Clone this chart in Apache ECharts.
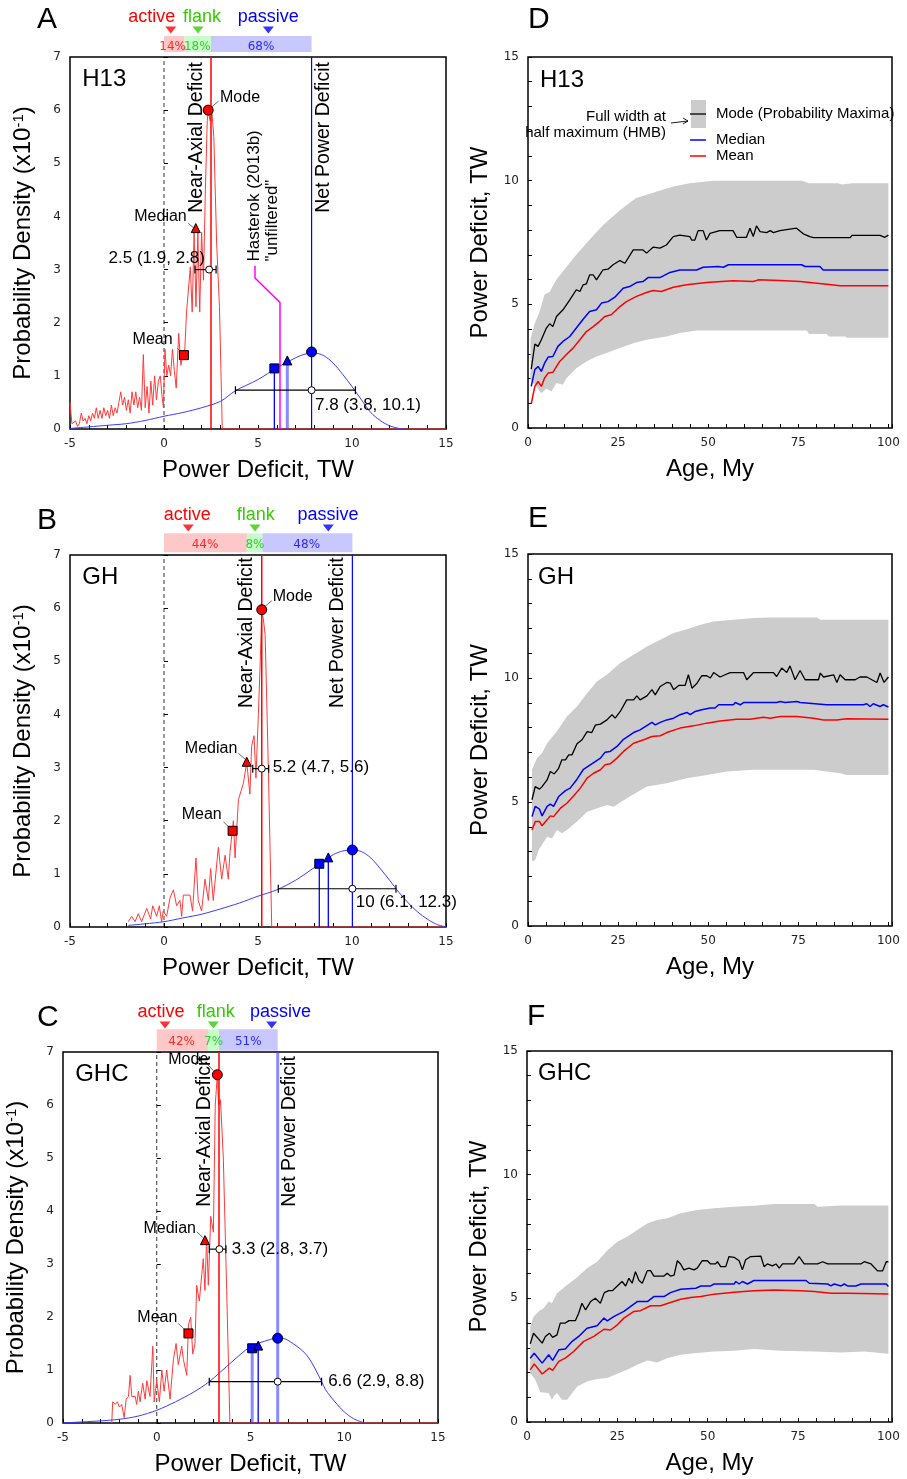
<!DOCTYPE html>
<html><head><meta charset="utf-8">
<script src="https://cdn.jsdelivr.net/npm/echarts@6/dist/echarts.min.js"></script>
<style>html,body{margin:0;padding:0;background:#fff}#c{width:907px;height:1479px}</style>
</head><body><div id="c"></div>
<script>
// ================= DATA =================
// ---- Panel A (H13) : probability density vs power deficit ----
const A_axial = [[-5,0.5],[-4.9,0.1],[-4.8,0.1],[-4.7,0.15],[-4.6,0.05],[-4.5,0.1],[-4.4,0.3],[-4.3,0.15],[-4.2,0.2],[-4.1,0.1],[-4.0,0.25],[-3.9,0.15],[-3.8,0.3],[-3.7,0.2],[-3.6,0.4],[-3.5,0.2],[-3.4,0.35],[-3.3,0.2],[-3.2,0.4],[-3.1,0.25],[-3.0,0.35],[-2.9,0.2],[-2.8,0.45],[-2.7,0.25],[-2.6,0.4],[-2.5,0.3],[-2.4,0.5],[-2.3,0.7],[-2.2,0.45],[-2.1,0.6],[-2.0,0.35],[-1.9,0.55],[-1.8,0.3],[-1.7,0.7],[-1.6,0.45],[-1.5,0.7],[-1.4,0.4],[-1.3,0.6],[-1.2,0.35],[-1.1,1.4],[-1.0,0.4],[-0.9,0.8],[-0.8,0.3],[-0.7,0.9],[-0.6,0.45],[-0.5,1.0],[-0.4,0.55],[-0.3,0.9],[-0.2,1.0],[-0.1,0.6],[-0.03,0.4],[0.05,1.5],[0.15,1.0],[0.25,1.2],[0.35,1.0],[0.45,1.5],[0.55,1.1],[0.65,0.77],[0.78,1.8],[0.9,1.2],[1.0,1.4],[1.1,1.45],[1.2,2.2],[1.3,2.2],[1.4,3.05],[1.5,2.2],[1.6,3.7],[1.7,2.3],[1.8,3.7],[1.9,2.2],[2.0,3.7],[2.1,2.8],[2.2,4.5],[2.3,5.8],[2.36,6.0],[2.45,5.8],[2.55,5.95],[2.65,5.5],[2.8,3.5],[2.95,2.3],[3.1,0],[15,0]];
const A_net = [[-5,0.01],[-4,0.04],[-3,0.07],[-2,0.1],[-1,0.16],[0,0.24],[1,0.31],[2,0.4],[3,0.52],[3.8,0.72],[5,0.93],[6,1.15],[7,1.34],[7.5,1.41],[8,1.43],[8.5,1.38],[9,1.24],[9.5,1.03],[10,0.8],[10.5,0.55],[11,0.31],[11.5,0.16],[12,0.06],[12.5,0.01],[12.8,0]];
const A_hasterok = [[6.17,0],[6.17,2.38],[4.84,2.84],[4.84,3.07]];
const A_regions = [0, 1.1, 2.5, 7.85];
const A_shares = ['14%','18%','68%'];
const A_regionMarks = [0.36, 1.81, 5.55];
const A_axialX = 2.5, A_netX = 7.85;
const A_mode = [2.35, 6.0], A_median = [1.69, 3.78], A_mean = [1.06, 1.39];
const A_netMode = [7.85, 1.45], A_netMean = [5.87, 1.14], A_netMedian = [6.56, 1.29];
const A_axialCI = [2.4, 3.0, 1.65, 2.77];
const A_netCI = [7.85, 0.73, 3.8, 10.18];
const A_ciText = ['2.5 (1.9, 2.8)', '7.8 (3.8, 10.1)'];

// ---- Panel B (GH) ----
const B_axial = [[-1.9,0.1],[-1.72,0.2],[-1.54,0.1],[-1.37,0.25],[-1.19,0.1],[-0.92,0.35],[-0.71,0.15],[-0.6,0.4],[-0.39,0.2],[-0.25,0.4],[-0.13,0.1],[-0.04,0.3],[0.14,0.2],[0.32,0.55],[0.5,0.7],[0.67,0.4],[0.85,0.5],[0.94,0.2],[1.03,0.6],[1.38,0.6],[1.52,0.3],[1.7,1.3],[1.82,0.5],[2.0,0.3],[2.18,0.9],[2.36,0.5],[2.48,1.1],[2.62,0.5],[2.89,1.5],[3.07,0.9],[3.25,1.35],[3.42,0.9],[3.51,1.4],[3.69,2.0],[3.78,1.3],[3.96,2.4],[4.04,2.4],[4.22,2.7],[4.4,3.1],[4.57,2.5],[4.66,3.4],[4.79,3.6],[4.89,2.8],[5.02,4.0],[5.12,5.0],[5.2,5.97],[5.28,5.8],[5.38,5.5],[5.55,3.0],[5.73,0],[15,0]];
const B_net = [[-1.9,0.03],[-1,0.06],[0,0.1],[1,0.17],[2,0.24],[3,0.34],[4,0.45],[5,0.58],[6,0.7],[7,0.88],[8,1.12],[9,1.36],[9.5,1.43],[10,1.45],[10.5,1.42],[11,1.3],[11.5,1.1],[12,0.88],[12.5,0.65],[13,0.45],[13.5,0.28],[14,0.15],[14.5,0.05],[15,0]];
const B_regions = [0, 4.41, 5.23, 10.02];
const B_shares = ['44%','8%','48%'];
const B_regionMarks = [1.29, 4.84, 8.74];
const B_axialX = 5.2, B_netX = 10.02;
const B_mode = [5.2, 5.97], B_median = [4.4, 3.11], B_mean = [3.65, 1.81];
const B_netMode = [10.02, 1.45], B_netMean = [8.26, 1.19], B_netMedian = [8.74, 1.31];
const B_axialCI = [5.2, 2.98, 4.72, 5.57];
const B_netCI = [10.02, 0.72, 6.08, 12.34];
const B_ciText = ['5.2 (4.7, 5.6)', '10 (6.1, 12.3)'];

// ---- Panel C (GHC) ----
const C_axial = [[-2.4,0],[-2.35,0.4],[-2.22,0.35],[-2.1,0.4],[-1.99,0.3],[-1.87,0.35],[-1.74,0.1],[-1.63,0.45],[-1.51,0.5],[-1.42,0.9],[-1.33,0.5],[-1.15,0.5],[-1.07,0.35],[-0.98,0.6],[-0.89,0.4],[-0.75,0.75],[-0.62,0.45],[-0.53,0.8],[-0.36,0.5],[-0.21,1.45],[-0.14,0.4],[0.0,0.8],[0.14,0.4],[0.27,1.0],[0.39,0.6],[0.53,1.0],[0.71,0.45],[0.89,1.2],[1.03,1.5],[1.15,1.1],[1.33,1.45],[1.42,1.2],[1.6,0.9],[1.69,1.85],[1.81,2.0],[1.92,1.3],[2.04,1.5],[2.13,2.6],[2.27,2.3],[2.4,2.8],[2.48,3.1],[2.57,2.5],[2.66,3.5],[2.75,2.6],[2.88,3.9],[3.02,3.6],[3.12,6.0],[3.23,6.57],[3.3,6.0],[3.4,6.1],[3.55,5.0],[3.73,2.5],[3.9,0],[15,0]];
const C_net = [[-5,0],[-4,0.02],[-3,0.04],[-2,0.07],[-1,0.13],[0,0.24],[1,0.4],[2,0.59],[2.8,0.78],[4,1.15],[5,1.44],[6,1.57],[6.5,1.61],[7,1.56],[8,1.28],[8.8,0.78],[9,0.63],[9.5,0.4],[10,0.21],[10.5,0.08],[11,0.01]];
const C_regions = [0, 2.73, 3.32, 6.45];
const C_shares = ['42%','7%','51%'];
const C_regionMarks = [0.44, 3.02, 6.13];
const C_axialX = 3.32, C_netX = 6.45;
const C_mode = [3.23, 6.57], C_median = [2.57, 3.45], C_mean = [1.69, 1.69];
const C_netMode = [6.45, 1.6], C_netMean = [5.09, 1.41], C_netMedian = [5.41, 1.46];
const C_axialCI = [3.34, 3.28, 2.8, 3.69];
const C_netCI = [6.45, 0.78, 2.8, 8.79];
const C_ciText = ['3.3 (2.8, 3.7)', '6.6 (2.9, 8.8)'];

// ---- Panel D (H13) : power deficit vs age ----
const D_hi = [[0.7,3.6],[1.8,4.2],[3.2,4.7],[4.6,5.4],[6,5.5],[7.9,6.0],[10.6,6.5],[13.4,7.0],[17,7.6],[20.8,8.2],[25.5,8.8],[30,9.3],[35.6,9.55],[40.3,9.76],[44.9,9.9],[51.4,10.0],[76,10.0],[78,9.9],[86,9.9],[87,9.85],[90,9.9],[100,9.9]];
const D_lo = [[0.7,1.95],[2.3,1.68],[3.7,1.41],[5.1,1.6],[6.5,1.48],[7.9,1.82],[9.7,1.75],[10.6,2.0],[13.4,2.42],[16.2,2.69],[19,2.89],[21.8,3.03],[25.5,3.23],[29.2,3.43],[32.9,3.57],[38.4,3.7],[42.1,3.84],[46.8,3.94],[77.3,3.94],[78,3.8],[82.9,3.8],[83.5,3.7],[88,3.7],[88.5,3.65],[100,3.65]];
const D_mode = [[0.9,2.38],[1.9,3.39],[2.8,3.3],[3.7,3.57],[5.1,4.04],[6.0,4.21],[6.9,4.1],[7.9,4.51],[9.7,4.78],[11.6,5.18],[13.4,5.59],[14.4,5.52],[15.3,5.79],[16.2,5.83],[17.1,6.19],[18.1,6.19],[19.0,5.99],[20.8,6.39],[22.2,6.42],[23.6,6.6],[25.5,6.77],[26.9,6.66],[29.2,7.2],[31.9,7.2],[32.9,7.07],[34.7,7.31],[36.6,7.27],[38.4,7.4],[40.3,7.74],[42.1,7.8],[44.9,7.74],[45.4,7.6],[46.3,7.6],[47.2,7.98],[48.6,7.98],[49.5,7.6],[50.5,7.87],[53.2,7.98],[56.9,7.98],[57.9,7.71],[60.6,7.71],[61.6,8.08],[62.5,7.74],[63.4,8.17],[64.4,7.94],[66.2,7.9],[67.2,7.98],[68.1,7.9],[69.9,7.98],[74.5,8.08],[76.4,7.85],[78.2,7.74],[79.2,7.7],[89.4,7.7],[89.9,7.79],[97.7,7.79],[99,7.71],[100,7.8]];
const D_median = [[0.9,1.68],[1.9,2.36],[2.8,2.49],[3.7,2.29],[4.6,2.62],[5.6,2.87],[6.9,2.89],[8.3,3.3],[9.7,3.5],[11.6,3.7],[13.4,4.04],[15.3,4.4],[17.1,4.71],[19,4.78],[20.4,5.05],[22.2,5.11],[24.1,5.29],[26.4,5.65],[28.2,5.72],[30.1,5.88],[31.9,5.92],[33.3,6.08],[36.6,6.08],[39.4,6.29],[42.1,6.39],[46.8,6.39],[48.6,6.5],[52.8,6.53],[53.2,6.6],[54.2,6.5],[55.6,6.6],[75.9,6.6],[76.9,6.53],[81,6.53],[81.9,6.39],[100,6.39]];
const D_mean = [[0.9,0.98],[1.9,1.68],[2.8,1.88],[3.7,1.68],[4.6,2.02],[5.6,2.22],[6.9,2.25],[8.8,2.69],[10.6,2.96],[12.5,3.23],[14.4,3.57],[16.2,3.9],[18.1,4.1],[19.9,4.31],[21.3,4.51],[23.1,4.58],[25.5,4.91],[27.3,5.11],[30.1,5.32],[32.9,5.48],[34.7,5.56],[37,5.52],[40.3,5.69],[44,5.79],[49.5,5.88],[56.9,5.95],[62.5,5.92],[63.9,5.99],[69.9,5.96],[75.5,5.92],[82.9,5.81],[86.6,5.75],[100,5.75]];

// ---- Panel E (GH) ----
const E_hi = [[1.1,6.3],[2.5,6.77],[3.9,6.97],[5.3,7.37],[8.0,7.84],[10.8,8.45],[13.6,8.85],[16.4,9.39],[19.1,9.86],[21.9,10.13],[25.6,10.6],[29.3,10.94],[33.0,11.27],[36.7,11.54],[40.4,11.81],[44.1,11.97],[47.8,12.15],[51.5,12.28],[57.0,12.35],[62.6,12.42],[67.2,12.44],[80.1,12.44],[81.1,12.35],[100,12.35]];
const E_lo = [[1.1,2.6],[2.0,2.66],[3.0,3.07],[5.3,3.6],[6.7,3.53],[8.0,3.87],[9.4,3.74],[10.8,3.87],[13.6,4.21],[16.4,4.61],[21.9,4.88],[23.8,4.81],[27.4,5.15],[33.0,5.62],[38.5,5.76],[44.1,5.96],[49.6,6.09],[55.2,6.23],[62.6,6.3],[79.2,6.3],[86.6,6.16],[88.4,6.09],[100,6.09]];
const E_mode = [[1.1,5.09],[2.0,5.62],[3.2,5.52],[3.9,5.62],[5.3,5.89],[6.2,6.23],[7.3,6.13],[8.5,6.36],[9.4,6.7],[10.4,6.7],[11.3,6.9],[12.2,6.9],[13.6,7.35],[15.0,7.51],[16.4,7.84],[17.7,7.8],[18.7,8.1],[20.1,8.14],[21.9,8.31],[23.3,8.52],[24.2,8.38],[25.6,8.65],[27.4,9.12],[29.3,9.12],[30.2,9.28],[31.1,9.12],[33.0,9.28],[34.4,9.53],[35.3,9.32],[36.7,9.66],[38.5,9.82],[39.5,9.79],[40.4,9.53],[41.8,9.7],[43.6,9.7],[44.5,10.13],[45.5,9.59],[46.9,9.79],[48.2,10.09],[49.6,10.09],[50.6,10.0],[51.5,10.22],[53.3,10.04],[54.7,10.13],[56.1,10.22],[59.8,10.22],[60.7,9.93],[62.6,10.22],[68.1,10.22],[69.0,10.06],[70.4,10.4],[71.8,10.22],[72.7,10.49],[74.1,9.93],[75.5,10.3],[76.9,9.93],[80.6,9.93],[81.1,10.2],[82.0,10.04],[84.8,10.13],[85.7,9.82],[86.6,10.13],[88.0,9.93],[90.8,9.93],[92.1,10.04],[94.0,10.04],[96.8,9.82],[97.7,10.2],[98.8,9.82],[100,10.04]];
const E_median = [[1.1,4.41],[2.0,4.82],[3.2,4.71],[3.9,4.44],[5.3,4.82],[6.2,4.91],[7.1,4.82],[8.5,5.22],[10.4,5.46],[11.7,5.56],[13.6,5.92],[15.4,6.32],[17.7,6.54],[20.1,6.77],[21.4,7.01],[22.8,7.04],[24.7,7.24],[26.5,7.53],[29.3,7.8],[31.1,7.91],[34.4,8.21],[35.3,8.11],[36.7,8.21],[38.5,8.31],[40.4,8.38],[42.2,8.52],[44.1,8.61],[45.0,8.52],[46.4,8.65],[48.2,8.72],[50.6,8.79],[51.9,8.79],[52.9,8.92],[57.0,8.92],[57.5,9.01],[58.9,8.92],[59.8,9.01],[69.0,9.01],[70.0,9.05],[71.3,9.01],[74.6,9.05],[75.5,9.01],[82.9,8.92],[93.1,8.92],[94.0,8.96],[94.9,8.85],[95.8,8.96],[97.7,8.85],[98.6,8.92],[100,8.83]];
const E_mean = [[1.1,3.87],[2.0,4.21],[3.2,4.21],[3.9,4.04],[5.3,4.28],[6.2,4.44],[7.1,4.41],[9.0,4.75],[10.8,4.95],[12.7,5.25],[14.5,5.56],[16.4,5.96],[18.2,6.16],[20.1,6.3],[21.4,6.5],[22.8,6.54],[24.7,6.77],[26.5,7.04],[29.3,7.37],[32.1,7.51],[34.4,7.64],[36.7,7.67],[38.5,7.8],[42.2,7.98],[45.9,8.07],[49.6,8.18],[53.3,8.27],[57.9,8.34],[61.6,8.34],[65.3,8.42],[67.2,8.38],[70.0,8.45],[74.6,8.45],[79.2,8.38],[82.0,8.31],[85.7,8.31],[88.4,8.36],[100,8.34]];

// ---- Panel F (GHC) ----
const F_hi = [[0.9,3.86],[1.8,4.26],[3.2,4.47],[4.6,4.6],[6.0,4.87],[6.9,4.8],[8.3,5.21],[11.1,5.54],[13.9,5.85],[16.6,6.22],[19.4,6.48],[22.2,6.93],[25.0,7.29],[27.7,7.49],[30.5,7.76],[33.3,8.03],[36.0,8.17],[38.8,8.24],[42.5,8.44],[47.1,8.57],[51.8,8.64],[57.3,8.7],[62.8,8.74],[68.4,8.81],[79.5,8.81],[80.4,8.7],[86.9,8.75],[100,8.75]];
const F_lo = [[0.9,1.98],[2.3,1.71],[3.7,1.2],[6.0,1.17],[6.9,0.9],[7.4,1.04],[8.3,1.17],[9.7,0.9],[11.1,0.9],[13.9,1.44],[16.6,1.64],[19.4,1.74],[22.2,1.78],[25.0,1.95],[27.7,2.11],[30.5,2.31],[33.3,2.49],[36.0,2.41],[38.8,2.58],[42.5,2.72],[46.2,2.78],[51.8,2.85],[57.3,2.88],[62.8,2.95],[70.2,2.88],[79.5,2.85],[86.9,2.81],[93.3,2.85],[100,2.76]];
const F_mode = [[0.9,3.16],[1.8,3.59],[3.0,3.39],[4.2,3.19],[5.1,3.46],[6.2,3.59],[7.1,3.42],[8.3,3.52],[9.2,4.0],[10.6,4.0],[11.6,4.1],[13.4,4.1],[14.3,4.4],[15.2,4.8],[16.2,4.53],[17.6,4.87],[18.9,5.0],[19.4,5.0],[20.3,4.8],[21.4,5.23],[22.6,5.31],[23.6,5.31],[25.0,5.5],[26.3,5.68],[27.3,5.5],[28.2,5.81],[29.1,5.61],[30.0,6.08],[31.0,5.72],[31.9,5.61],[33.3,6.12],[34.2,6.12],[35.1,5.9],[37.9,5.9],[38.8,6.01],[39.7,5.9],[40.7,5.94],[41.6,6.52],[42.5,6.39],[43.4,6.15],[44.8,6.22],[46.2,6.15],[47.1,6.22],[48.5,6.52],[49.9,6.52],[50.8,6.39],[52.2,6.39],[52.7,6.48],[53.6,6.28],[55.0,6.28],[55.9,6.69],[57.3,6.66],[58.7,6.52],[59.6,6.15],[60.5,6.56],[61.9,6.69],[64.7,6.71],[65.6,6.28],[66.5,6.39],[67.9,6.31],[68.9,6.39],[69.8,6.22],[70.7,6.39],[73.9,6.39],[75.3,6.69],[76.7,6.39],[80.4,6.39],[81.8,6.48],[83.2,6.39],[92.4,6.39],[93.3,6.48],[95.2,6.39],[97.0,6.11],[98.4,6.11],[99.4,6.48],[100,6.48]];
const F_median = [[0.9,2.58],[2.0,2.78],[4.2,2.38],[6.0,2.72],[7.1,2.49],[8.8,2.92],[10.6,2.95],[12.5,3.26],[14.3,3.46],[16.6,3.79],[19.4,3.89],[21.3,4.2],[22.2,4.09],[24.0,4.26],[26.8,4.47],[30.5,4.87],[33.3,4.87],[35.1,5.07],[37.9,5.07],[39.7,5.23],[42.5,5.37],[46.7,5.41],[48.1,5.5],[50.8,5.5],[51.8,5.58],[57.3,5.58],[57.8,5.68],[58.7,5.58],[59.6,5.68],[61.0,5.58],[62.8,5.72],[77.2,5.72],[78.1,5.61],[83.2,5.58],[84.1,5.5],[85.0,5.58],[86.9,5.5],[87.8,5.58],[88.7,5.5],[91.0,5.5],[92.4,5.58],[99.4,5.58],[100,5.48]];
const F_mean = [[0.9,2.11],[2.0,2.35],[4.2,1.94],[6.2,2.18],[7.1,2.09],[8.8,2.45],[10.6,2.58],[12.9,2.85],[15.7,3.26],[18.5,3.46],[21.3,3.75],[23.1,3.72],[25.0,3.93],[26.8,4.2],[29.6,4.47],[31.4,4.5],[34.2,4.7],[37.0,4.7],[39.7,4.83],[42.5,4.96],[45.3,5.03],[48.1,5.07],[51.8,5.17],[57.3,5.25],[62.8,5.31],[68.4,5.34],[75.8,5.31],[79.5,5.28],[84.1,5.21],[88.7,5.21],[100,5.18]];

// ================= STYLE / LAYOUT =================
const FONT = '"Liberation Sans", Arial, sans-serif';
const TICKFONT = '"DejaVu Sans", Verdana, sans-serif';
const REGION_NAMES = ['active', 'flank', 'passive'];
const REGION_TEXT = ['#ff0000', '#33cc00', '#0000ff'];
const REGION_FILL = ['#ffc8c8', '#c8ffc8', '#c8c8ff'];
const REGION_PCT = ['#ff2a2a', '#33cc33', '#2a2aff'];
const THIN_BLUE = {color: '#0000ff', width: 1.3};
const WIDE_BLUE = {color: 'rgba(60,60,255,0.6)', width: 3};

const grids = [], xAxes = [], yAxes = [], series = [], graphic = [];

function tickFmt(every) { return v => (Math.abs(v / every - Math.round(v / every)) < 1e-9) ? String(v) : ''; }
function valAxis(min, max, labelEvery, name, nameGap, extra) {
  return Object.assign({
    type: 'value', min, max, interval: 1, name, nameLocation: 'middle', nameGap, nameMoveOverlap: false,
    nameTextStyle: {fontFamily: FONT, fontSize: 24, color: '#000'},
    axisLine: {show: false}, splitLine: {show: false},
    axisTick: {show: true, inside: true, length: 4, lineStyle: {color: '#000', width: 1}},
    axisLabel: {show: true, fontFamily: TICKFONT, fontSize: 12, color: '#222', margin: 9, formatter: tickFmt(labelEvery)}
  }, extra || {});
}
function addGrid(rect, xa, ya) {
  grids.push(Object.assign({show: true, borderColor: '#000', borderWidth: 1.5, backgroundColor: 'transparent', containLabel: false, outerBoundsMode: 'none'}, rect));
  const i = grids.length - 1;
  xAxes.push(Object.assign({gridIndex: i}, xa));
  yAxes.push(Object.assign({gridIndex: i}, ya));
  return i;
}
function addStrip(left, top, width) {
  grids.push({show: false, left, top, width, height: 50, containLabel: false, outerBoundsMode: 'none'});
  const i = grids.length - 1;
  xAxes.push({gridIndex: i, type: 'value', min: -5, max: 15, show: false});
  yAxes.push({gridIndex: i, type: 'value', min: 0, max: 50, show: false});
  return i;
}
function lineS(g, data, style, extra) {
  series.push(Object.assign({type: 'line', xAxisIndex: g, yAxisIndex: g, data, symbol: 'none', showSymbol: false,
    silent: true, lineStyle: Object.assign({}, style), z: 3}, extra || {}));
}
function markS(g, pt, symbol, color, size, extra) {
  series.push(Object.assign({type: 'scatter', xAxisIndex: g, yAxisIndex: g, data: [pt], symbol, symbolSize: size,
    itemStyle: {color, borderColor: '#000', borderWidth: 1, opacity: 1}, silent: true, z: 6}, extra || {}));
}
function textS(g, items, z) {
  series.push({type: 'custom', xAxisIndex: g, yAxisIndex: g, coordinateSystem: 'cartesian2d', silent: true, clip: false, z: z || 8,
    data: items.map(t => [t.x, t.y]),
    renderItem: (p, api) => {
      const t = items[p.dataIndex]; const c = api.coord([t.x, t.y]);
      const al = t.align || 'left';
      return {type: 'text', x: c[0], y: c[1], rotation: t.rot ? Math.PI / 2 : 0,
        style: {text: t.text, fill: t.color || '#000', font: (t.size || 16) + 'px ' + (t.font || FONT),
          align: al, textAlign: al, verticalAlign: 'middle', textVerticalAlign: 'middle', lineHeight: t.lh}};
    }});
}
function ciS(g, ci) {
  series.push({type: 'custom', xAxisIndex: g, yAxisIndex: g, coordinateSystem: 'cartesian2d', silent: true, z: 5, data: [ci],
    renderItem: (p, api) => {
      const y = api.value(1); const a = api.coord([api.value(2), y]); const b = api.coord([api.value(3), y]); const cap = 4;
      const st = {stroke: '#000', lineWidth: 1.2};
      return {type: 'group', children: [
        {type: 'line', shape: {x1: a[0], y1: a[1], x2: b[0], y2: b[1]}, style: st},
        {type: 'line', shape: {x1: a[0], y1: a[1] - cap, x2: a[0], y2: a[1] + cap}, style: st},
        {type: 'line', shape: {x1: b[0], y1: b[1] - cap, x2: b[0], y2: b[1] + cap}, style: st}]};
    }});
  markS(g, [ci[0], ci[1]], 'circle', '#fff', 7, {z: 7});
}
function bandS(g, hi, lo) {
  series.push({type: 'custom', xAxisIndex: g, yAxisIndex: g, coordinateSystem: 'cartesian2d', silent: true, z: 1, data: [hi[0]],
    renderItem: (p, api) => {
      const pts = hi.map(d => api.coord(d)).concat(lo.slice().reverse().map(d => api.coord(d)));
      return {type: 'polygon', shape: {points: pts}, style: {fill: '#cccccc'}};
    }});
}
function gText(x, y, text, size, align, color) {
  graphic.push({type: 'text', x, y, silent: true, z: 100,
    style: {text, fill: color || '#000', font: size + 'px ' + FONT, align: align || 'left', textAlign: align || 'left', verticalAlign: 'middle', textVerticalAlign: 'middle'}});
}

function densityPanel(P) {
  const g = addGrid({left: P.left, top: P.top, width: P.width, height: P.height},
    valAxis(-5, 15, 5, 'Power Deficit, TW', 29),
    valAxis(0, 7, 1, 'Probability Density (x10{sup|-1})', 34, {nameTextStyle: {fontFamily: FONT, fontSize: 24, color: '#000',
      rich: {sup: {fontFamily: FONT, fontSize: 15, color: '#000', verticalAlign: 'top', padding: [0, 0, 10, 0]}}}}));
  const s = addStrip(P.left, P.top - 50, P.width);
  // regions strip
  series.push({type: 'custom', xAxisIndex: s, yAxisIndex: s, coordinateSystem: 'cartesian2d', silent: true, z: 2,
    data: [0, 1, 2].map(i => [P.regions[i], P.regions[i + 1], i]),
    renderItem: (p, api) => {
      const a = api.coord([api.value(0), P.rectTop]); const b = api.coord([api.value(1), P.rectBottom]);
      return {type: 'rect', shape: {x: a[0], y: a[1], width: b[0] - a[0], height: b[1] - a[1]}, style: {fill: REGION_FILL[api.value(2)]}};
    }});
  [0, 1, 2].forEach(i => series.push({type: 'scatter', xAxisIndex: s, yAxisIndex: s, data: [[P.regionMarks[i], 27]],
    symbol: 'triangle', symbolRotate: 180, symbolSize: [11, 7], itemStyle: {color: REGION_TEXT[i]}, silent: true, z: 4}));
  textS(s, [0, 1, 2].map(i => ({x: P.regionLabelX[i], y: 39.5, text: REGION_NAMES[i], color: REGION_TEXT[i], size: 18, align: 'center'}))
    .concat([0, 1, 2].map(i => ({x: P.pctX[i], y: 10.5, text: P.shares[i], color: REGION_PCT[i], size: 12, font: TICKFONT, align: 'center'}))));

  // main
  lineS(g, [[0, 0], [0, 7]], {color: '#000', width: 0.8, type: [4, 3]});
  lineS(g, P.axial, {color: '#ff3b3b', width: 1});
  lineS(g, P.net, {color: '#3b3bff', width: 1}, {smooth: 0.3});
  if (P.hasterok) lineS(g, P.hasterok, {color: '#ff00ff', width: 1.5});
  lineS(g, [[P.axialX, 0], [P.axialX, 7]], {color: '#ff0000', width: 1.5}, {z: 4});
  lineS(g, [[P.netX, 0], [P.netX, 7]], P.netStyle, {z: 4});
  lineS(g, [[P.netMean[0], 0], P.netMean], P.sqStyle, {z: 4});
  lineS(g, [[P.netMedian[0], 0], P.netMedian], P.triStyle, {z: 4});
  // leaders
  P.leaders.forEach(l => lineS(g, l, {color: '#444', width: 0.8}, {z: 5}));
  // markers
  markS(g, P.mode, 'circle', '#ff0000', 10);
  markS(g, P.median, 'triangle', '#ff0000', 9);
  markS(g, P.mean, 'rect', '#ff0000', 9);
  markS(g, P.netMode, 'circle', '#0000ff', 10);
  markS(g, P.netMean, 'rect', '#0000ff', 9);
  markS(g, P.netMedian, 'triangle', '#0000ff', 9);
  ciS(g, P.axialCI); ciS(g, P.netCI);
  textS(g, P.texts);
  return g;
}

function agePanel(P) {
  const g = addGrid({left: P.left, top: P.top, width: P.width, height: P.height},
    valAxis(0, 101, 25, 'Age, My', 29, {interval: 5}),
    valAxis(0, 15, 5, 'Power Deficit, TW', 36));
  bandS(g, P.hi, P.lo);
  lineS(g, P.mode, {color: '#000', width: 1.3});
  lineS(g, P.median, {color: '#0000ff', width: 1.5});
  lineS(g, P.mean, {color: '#ff0000', width: 1.5});
  return g;
}

const ROT = 19.5, LBL = 16, CI = 17;
// ---- Panel A
densityPanel({left: 70, top: 57, width: 376, height: 372, rectTop: 21, rectBottom: 5,
  axial: A_axial, net: A_net, hasterok: A_hasterok, regions: A_regions, shares: A_shares, regionMarks: A_regionMarks,
  regionLabelX: [-0.65, 2.02, 5.55], pctX: [0.46, 1.77, 5.16],
  axialX: A_axialX, netX: A_netX, netStyle: {color: '#0000ff', width: 1.2}, sqStyle: THIN_BLUE, triStyle: WIDE_BLUE,
  mode: A_mode, median: A_median, mean: A_mean, netMode: A_netMode, netMean: A_netMean, netMedian: A_netMedian,
  axialCI: A_axialCI, netCI: A_netCI,
  leaders: [[[2.5, 6.05], [2.9, 6.17]], [[1.29, 3.87], [1.56, 3.79]], [[0.71, 1.52], [0.94, 1.44]]],
  texts: [
    {x: 2.98, y: 6.23, text: 'Mode', size: LBL},
    {x: 1.21, y: 4.0, text: 'Median', size: LBL, align: 'right'},
    {x: 0.46, y: 1.68, text: 'Mean', size: LBL, align: 'right'},
    {x: 2.18, y: 3.21, text: A_ciText[0], size: CI, align: 'right'},
    {x: 8.03, y: 0.44, text: A_ciText[1], size: CI},
    {x: 1.74, y: 4.07, text: 'Near-Axial Deficit', size: ROT, rot: true},
    {x: 8.5, y: 4.07, text: 'Net Power Deficit', size: ROT, rot: true},
    {x: 5.29, y: 3.15, text: 'Hasterok (2013b)\n"unfiltered"', size: 17, rot: true, lh: 18},
    {x: -4.35, y: 6.57, text: 'H13', size: 24}
  ]});

// ---- Panel B
densityPanel({left: 70, top: 555, width: 376, height: 372, rectTop: 21.7, rectBottom: 2.7,
  axial: B_axial, net: B_net, regions: B_regions, shares: B_shares, regionMarks: B_regionMarks,
  regionLabelX: [1.24, 4.88, 8.72], pctX: [2.18, 4.84, 7.59],
  axialX: B_axialX, netX: B_netX, netStyle: {color: '#0000ff', width: 1.2}, sqStyle: THIN_BLUE, triStyle: THIN_BLUE,
  mode: B_mode, median: B_median, mean: B_mean, netMode: B_netMode, netMean: B_netMean, netMedian: B_netMedian,
  axialCI: B_axialCI, netCI: B_netCI,
  leaders: [[[5.37, 6.03], [5.73, 6.14]], [[3.95, 3.27], [4.31, 3.16]], [[3.16, 1.98], [3.51, 1.86]]],
  texts: [
    {x: 5.78, y: 6.21, text: 'Mode', size: LBL},
    {x: 3.9, y: 3.35, text: 'Median', size: LBL, align: 'right'},
    {x: 3.07, y: 2.11, text: 'Mean', size: LBL, align: 'right'},
    {x: 5.78, y: 3.0, text: B_ciText[0], size: CI},
    {x: 10.2, y: 0.46, text: B_ciText[1], size: CI},
    {x: 4.4, y: 4.12, text: 'Near-Axial Deficit', size: ROT, rot: true},
    {x: 9.22, y: 4.12, text: 'Net Power Deficit', size: ROT, rot: true},
    {x: -4.35, y: 6.57, text: 'GH', size: 24}
  ]});

// ---- Panel C
densityPanel({left: 63, top: 1052, width: 375, height: 371, rectTop: 22.7, rectBottom: 1.3,
  axial: C_axial, net: C_net, regions: C_regions, shares: C_shares, regionMarks: C_regionMarks,
  regionLabelX: [0.23, 3.15, 6.6], pctX: [1.33, 3.03, 4.88],
  axialX: C_axialX, netX: C_netX, netStyle: WIDE_BLUE, sqStyle: WIDE_BLUE, triStyle: THIN_BLUE,
  mode: C_mode, median: C_median, mean: C_mean, netMode: C_netMode, netMean: C_netMean, netMedian: C_netMedian,
  axialCI: C_axialCI, netCI: C_netCI,
  leaders: [[[2.57, 6.82], [3.02, 6.65]], [[2.13, 3.61], [2.45, 3.5]], [[1.15, 1.88], [1.51, 1.75]]],
  texts: [
    {x: 2.75, y: 6.85, text: 'Mode', size: LBL, align: 'right'},
    {x: 2.09, y: 3.67, text: 'Median', size: LBL, align: 'right'},
    {x: 1.1, y: 1.99, text: 'Mean', size: LBL, align: 'right'},
    {x: 4.0, y: 3.28, text: C_ciText[0], size: CI},
    {x: 9.14, y: 0.78, text: C_ciText[1], size: CI},
    {x: 2.57, y: 4.08, text: 'Near-Axial Deficit', size: ROT, rot: true},
    {x: 7.07, y: 4.08, text: 'Net Power Deficit', size: ROT, rot: true},
    {x: -4.35, y: 6.58, text: 'GHC', size: 24}
  ]});

// ---- Panels D, E, F
agePanel({left: 528, top: 57, width: 364, height: 371, hi: D_hi, lo: D_lo, mode: D_mode, median: D_median, mean: D_mean});
agePanel({left: 528, top: 554, width: 364, height: 372, hi: E_hi, lo: E_lo, mode: E_mode, median: E_median, mean: E_mean});
agePanel({left: 527, top: 1051, width: 365, height: 371, hi: F_hi, lo: F_lo, mode: F_mode, median: F_median, mean: F_mean});

// ---- panel letters & names
gText(37, 20, 'A', 30); gText(37, 521, 'B', 30); gText(37, 1018, 'C', 30);
gText(528, 20, 'D', 30); gText(528, 519, 'E', 30); gText(527, 1017, 'F', 30);
gText(540, 80, 'H13', 24); gText(538, 577, 'GH', 24); gText(538, 1073, 'GHC', 24);

// ---- legend (panel D)
graphic.push({type: 'rect', shape: {x: 691, y: 100, width: 15, height: 28}, style: {fill: '#cccccc'}, silent: true, z: 100});
graphic.push({type: 'line', shape: {x1: 690, y1: 114, x2: 706, y2: 114}, style: {stroke: '#000', lineWidth: 1.3}, silent: true, z: 101});
graphic.push({type: 'line', shape: {x1: 690, y1: 140, x2: 706, y2: 140}, style: {stroke: '#0000ff', lineWidth: 1.5}, silent: true, z: 101});
graphic.push({type: 'line', shape: {x1: 690, y1: 156, x2: 706, y2: 156}, style: {stroke: '#ff0000', lineWidth: 1.5}, silent: true, z: 101});
gText(716, 114, 'Mode (Probability Maxima)', 15);
gText(716, 140, 'Median', 15);
gText(716, 156, 'Mean', 15);
gText(666, 117, 'Full width at', 15, 'right');
gText(666, 133, 'half maximum (HMB)', 15, 'right');
graphic.push({type: 'line', shape: {x1: 671, y1: 123, x2: 688, y2: 121}, style: {stroke: '#000', lineWidth: 0.9}, silent: true, z: 101});
graphic.push({type: 'polyline', shape: {points: [[683, 118], [688, 121], [683, 124]]}, style: {stroke: '#000', lineWidth: 0.9, fill: null}, silent: true, z: 101});

const chart = echarts.init(document.getElementById('c'), null, {width: 907, height: 1479, renderer: 'canvas'});
chart.setOption({
  animation: false, backgroundColor: '#fff',
  grid: grids, xAxis: xAxes, yAxis: yAxes, series, graphic,
  tooltip: {show: false}, legend: {show: false}
});
</script></body></html>
